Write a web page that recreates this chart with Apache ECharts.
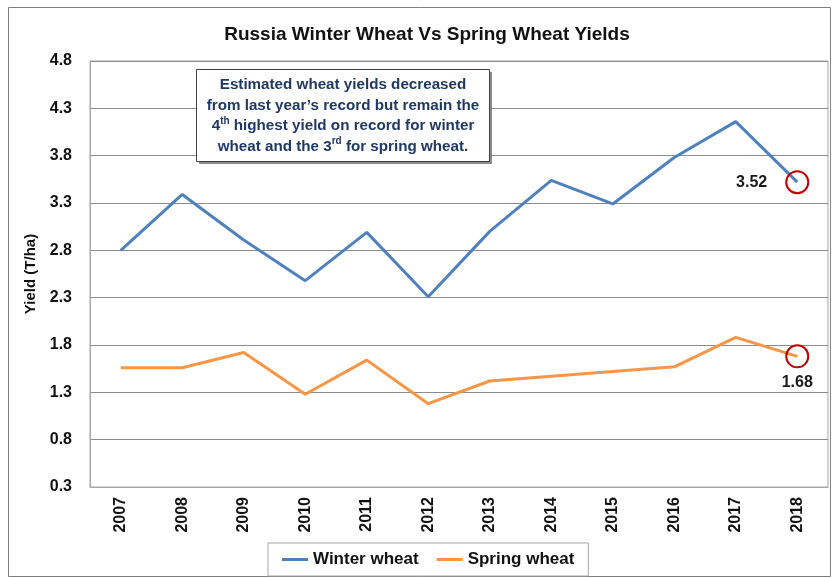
<!DOCTYPE html>
<html><head><meta charset="utf-8">
<script src="https://cdn.jsdelivr.net/npm/echarts@6/dist/echarts.min.js"></script>
<style>html,body{margin:0;padding:0;background:#fff}#c{width:832px;height:578px}</style>
</head><body><div id="c"></div>
<script>
const years = ['2007','2008','2009','2010','2011','2012','2013','2014','2015','2016','2017','2018'];
const winterWheat = [2.80, 3.39, 2.91, 2.48, 2.99, 2.31, 3.00, 3.54, 3.29, 3.78, 4.16, 3.52];
const springWheat = [1.56, 1.56, 1.72, 1.28, 1.64, 1.18, 1.42, 1.47, 1.52, 1.57, 1.88, 1.68];
const yTicks = {min: 0.3, max: 4.8, interval: 0.5};
const titleText = 'Russia Winter Wheat Vs Spring Wheat Yields';

const FONT = '"Liberation Sans", Arial, sans-serif';
const chart = echarts.init(document.getElementById('c'), null, {renderer: 'canvas'});

function withHighlight(arr, labelPos, dist) {
  return arr.map((v, i) => {
    if (i !== arr.length - 1) return v;
    return {
      value: v,
      symbol: 'circle',
      symbolSize: 22,
      itemStyle: {color: 'rgba(0,0,0,0)', borderColor: '#C00000', borderWidth: 2},
      label: {show: true, position: labelPos, distance: dist, formatter: () => v.toFixed(2),
        fontFamily: FONT, fontWeight: 'bold', fontSize: 16, color: '#1a1a1a'}
    };
  });
}

chart.setOption({
  animation: false,
  title: {text: titleText, left: 422, top: 20, textAlign: 'center',
    textStyle: {fontFamily: FONT, fontWeight: 'bold', fontSize: 19, color: '#111'}},
  grid: {left: 90, right: 4, top: 61, bottom: 91, show: true, borderColor: '#a6a6a6', borderWidth: 1},
  legend: {
    bottom: 2, left: 268, itemGap: 18, padding: [8, 14, 8, 14],
    borderColor: '#a6a6a6', borderWidth: 1,
    itemWidth: 26, itemHeight: 3, icon: 'rect',
    textStyle: {fontFamily: FONT, fontWeight: 'bold', fontSize: 17, color: '#111'},
    data: ['Winter wheat', 'Spring wheat']
  },
  xAxis: {
    type: 'category', data: years, boundaryGap: true,
    axisLine: {lineStyle: {color: '#a6a6a6'}},
    axisTick: {show: false},
    axisLabel: {rotate: 90, margin: 10, fontFamily: FONT, fontWeight: 'bold', fontSize: 16, color: '#111'}
  },
  yAxis: {
    type: 'value', min: yTicks.min, max: yTicks.max, interval: yTicks.interval,
    name: 'Yield (T/ha)', nameLocation: 'middle', nameGap: 46, nameRotate: 90,
    nameTextStyle: {fontFamily: FONT, fontWeight: 'bold', fontSize: 15, color: '#111'},
    axisLine: {show: true, lineStyle: {color: '#a6a6a6'}},
    axisTick: {show: false},
    axisLabel: {margin: 18, formatter: v => v.toFixed(1), fontFamily: FONT, fontWeight: 'bold', fontSize: 16, color: '#111'},
    splitLine: {lineStyle: {color: '#8c8c8c', width: 1}}
  },
  series: [
    {name: 'Winter wheat', type: 'line', symbol: 'none', color: '#4F81BD',
     lineStyle: {width: 3, color: '#4F81BD'}, data: withHighlight(winterWheat, 'left', 18)},
    {name: 'Spring wheat', type: 'line', symbol: 'none', color: '#F79646',
     lineStyle: {width: 3, color: '#F79646'}, data: withHighlight(springWheat, 'bottom', 6)}
  ],
  graphic: [
    {type: 'rect', x: 8.5, y: 7.5, shape: {width: 822, height: 569}, silent: true,
     style: {fill: 'none', stroke: '#7f7f7f', lineWidth: 1}, z: -1},
    {type: 'rect', x: 199, y: 72, shape: {width: 293, height: 92},
     style: {fill: '#8c8c8c'}, z: 9},
    {type: 'rect', x: 196.5, y: 69.5, shape: {width: 293, height: 92},
     style: {fill: '#fff', stroke: '#404040', lineWidth: 1}, z: 10},
    {type: 'text', x: 343, y: 116, z: 11,
     style: {
       textAlign: 'center', textVerticalAlign: 'middle',
       text: '{a|Estimated wheat yields decreased}\n{a|from last year\u2019s record but remain the}\n{a|4}{s|th}{a| highest yield on record for winter}\n{a|wheat and the 3}{s|rd}{a| for spring wheat.}',
       rich: {
         a: {fontFamily: FONT, fontWeight: 'bold', fontSize: 15.2, fill: '#1F3864', lineHeight: 20.5},
         s: {fontFamily: FONT, fontWeight: 'bold', fontSize: 10, fill: '#1F3864', verticalAlign: 'top', lineHeight: 20.5}
       }
     }}
  ]
});
</script></body></html>
